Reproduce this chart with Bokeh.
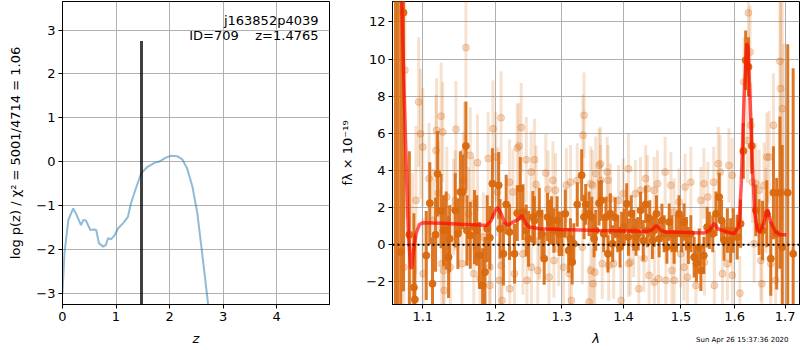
from bokeh.plotting import figure
from bokeh.layouts import row
from bokeh.models import Range1d, FixedTicker, PrintfTickFormatter, Label, Span, Title
from bokeh.embed import file_html
from bokeh.resources import INLINE

# ---------------- left panel data: log p(z) ----------------
z_grid = [0.0, 0.037, 0.11, 0.20, 0.265, 0.345, 0.39, 0.44, 0.52, 0.60, 0.63, 0.68,
          0.76, 0.81, 0.85, 0.91, 0.98, 1.04, 1.13, 1.22, 1.28, 1.38, 1.47, 1.59,
          1.72, 1.81, 1.93, 2.02, 2.15, 2.24, 2.33, 2.43, 2.52, 2.61, 2.72, 2.74]
logpz = [-3.0, -2.09, -1.33, -1.07, -1.22, -1.45, -1.33, -1.35, -1.56, -1.55, -1.56, -1.86,
         -1.94, -1.90, -1.75, -1.77, -1.67, -1.52, -1.41, -1.27, -0.95, -0.58, -0.27, -0.12,
         -0.03, 0.0, 0.09, 0.13, 0.12, 0.05, -0.16, -0.58, -1.18, -2.09, -3.24, -3.4]
z_best = 1.4765
z_best_top = 2.75
zx_ticks = [0, 1, 2, 3, 4]
zy_ticks = [-3, -2, -1, 0, 1, 2, 3]

# ---------------- right panel data: spectrum ----------------
dark_wave = [1.0645, 1.0675, 1.0713, 1.0748, 1.0824, 1.0883, 1.0896,
             1.1046, 1.1093, 1.1129, 1.1170, 1.1198, 1.1245, 1.1277, 1.1314, 1.1346, 1.1360,
             1.1438, 1.1474, 1.1508, 1.1544, 1.1585, 1.1599, 1.1646, 1.1705, 1.1737, 1.1774,
             1.1820, 1.1853, 1.1885, 1.1922, 1.1959,
             1.2050, 1.2070, 1.2119, 1.2159, 1.2208, 1.2282, 1.2322, 1.2367, 1.2407, 1.2456,
             1.2490, 1.2555, 1.2579, 1.2653, 1.2693, 1.2727, 1.2778, 1.2812, 1.2841, 1.2876,
             1.2926, 1.2960,
             1.3000, 1.3054, 1.3107, 1.3135, 1.3162, 1.3188, 1.3243, 1.3313, 1.3351, 1.3378,
             1.3432, 1.3476, 1.3513, 1.3540, 1.3594, 1.3633, 1.3670, 1.3708, 1.3740, 1.3779,
             1.3817, 1.3860, 1.3903, 1.3942, 1.3968,
             1.4012, 1.4053, 1.4083, 1.4131, 1.4171, 1.4212, 1.4247, 1.4289, 1.4335, 1.4377,
             1.4406, 1.4448, 1.4494, 1.4524, 1.4564, 1.4612, 1.4660, 1.4700, 1.4748, 1.4789,
             1.4836, 1.4877, 1.4917, 1.4965,
             1.5013, 1.5055, 1.5098, 1.5134, 1.5179, 1.5239, 1.5282, 1.5332, 1.5363, 1.5418,
             1.5479, 1.5521, 1.5584, 1.5645, 1.5705, 1.5749, 1.5797, 1.5860, 1.5921, 1.5971,
             1.6048, 1.6113, 1.6167, 1.6212, 1.6266, 1.6331, 1.6411, 1.6476, 1.6544, 1.6629,
             1.6708, 1.6762, 1.6827, 1.6893, 1.6940, 1.7052, 1.7164]
dark_flux = [14.5, -4.0, -0.4, 12.5, 0.54, -2.3, -2.95,
             -0.58, 2.24, -2.1, 0.54, 3.82, 1.81, 0.77, 0.77, -0.67, 0.32,
             1.85, 0.59, 2.84, 2.84, 5.32, 0.77, 0.5, 0.95, 0.77, -0.58,
             -2.19, -1.48, 0.86, 0.38, 3.29,
             3.2, 0.86, -0.49, 2.17, 0.68, -0.49, 1.7, 3.02, 1.76, 0.77,
             0.32, 1.49, 1.31, 1.67, 0.59, -0.75, 1.49, 1.22, 1.31, 0.77,
             1.31, 0.59,
             0.59, 1.67, -0.31, 0.32, -0.94, 0.05, 2.17, 3.74, 1.49, 2.17,
             1.67, 1.49, 0.32, 0.77, 2.24, 2.39, 0.59, 1.49, -0.49, 1.67,
             0.05, 1.46, 0.59, -0.13, 0.77,
             0.95, 2.21, 0.41, 1.67, 0.77, 0.41, 0.59, 1.85, 0.23, 2.17,
             0.77, 1.4, 0.23, 0.77, 1.67, 0.32, 1.31, 0.59, -0.13, 1.22,
             0.59, -0.13, 0.59, 1.67,
             0.59, 1.22, 0.59, -0.04, 0.59, -0.67, -1.02, -0.13, -1.39, -0.58,
             0.95, 0.77, 0.59, 1.67, 2.57, 1.31, 0.23, 0.77, 0.23, 0.77,
             0.41, 1.13, 5.05, 9.94, 9.58, 5.32, 1.85, 0.95, 0.77, 1.67,
             -0.75, 2.8, 0.59, 2.8, -0.13, 2.8, -0.49]
dark_err = [20, 20, 15, 15, 4.5, 4.0, 3.5,
            2.4, 2.2, 2.5, 2.0, 2.3, 2.0, 1.9, 2.1, 2.2, 1.8,
            2.0, 1.9, 2.2, 2.0, 2.4, 1.9, 1.8, 2.0, 1.9, 1.8,
            2.0, 1.9, 1.8, 1.7, 1.9,
            1.8, 1.6, 1.7, 1.6, 1.5, 1.6, 1.5, 1.7, 1.5, 1.4,
            1.5, 1.4, 1.3, 1.4, 1.3, 1.4, 1.3, 1.2, 1.3, 1.2,
            1.3, 1.2,
            1.2, 1.3, 1.2, 1.1, 1.2, 1.1, 1.2, 1.4, 1.2, 1.1,
            1.2, 1.1, 1.0, 1.1, 1.2, 1.1, 1.0, 1.1, 1.0, 1.1,
            1.0, 1.1, 1.0, 1.1, 1.0,
            1.0, 1.1, 1.0, 1.0, 1.1, 1.0, 0.9, 1.0, 1.1, 1.0,
            0.9, 1.0, 1.0, 0.9, 1.0, 1.0, 0.9, 1.0, 0.9, 1.0,
            1.0, 0.9, 1.0, 1.0,
            1.0, 1.0, 0.9, 1.0, 1.0, 1.1, 1.0, 1.0, 1.1, 1.0,
            1.1, 1.0, 1.0, 1.2, 1.3, 1.1, 1.1, 1.2, 1.2, 1.2,
            1.2, 1.3, 1.5, 1.6, 1.6, 1.5, 1.4, 1.5, 1.6, 1.8,
            2.0, 2.5, 3.0, 4.1, 5.5, 8.0, 10.0]

light_wave = [1.0753, 1.0766, 1.0865, 1.0910, 1.0946, 1.0969, 1.1000, 1.1005, 1.1083, 1.1138,
              1.1176, 1.1184, 1.1207, 1.1245, 1.1253, 1.1267, 1.1277, 1.1286, 1.1322, 1.1369,
              1.1415, 1.1438, 1.1447, 1.1530, 1.1553, 1.1563, 1.1585, 1.1622, 1.1646, 1.1692,
              1.1695, 1.1747, 1.1784, 1.1830, 1.1899, 1.1922, 1.1925, 1.1968, 1.2010, 1.2036,
              1.2059, 1.2085, 1.2088, 1.2099, 1.2208, 1.2211, 1.2258, 1.2282, 1.2322, 1.2347,
              1.2381, 1.2407, 1.2456, 1.2466, 1.2530, 1.2533, 1.2579, 1.2604, 1.2629, 1.2653,
              1.2752, 1.2787, 1.2801, 1.2861, 1.2876, 1.2901, 1.2950, 1.3026, 1.3070, 1.3118,
              1.3135, 1.3151, 1.3243, 1.3325, 1.3334, 1.3351, 1.3432, 1.3459, 1.3462, 1.3487,
              1.3497, 1.3524, 1.3540, 1.3594, 1.3617, 1.3620, 1.3646, 1.3727, 1.3743, 1.3754,
              1.3782, 1.3835, 1.3917, 1.3958, 1.3995, 1.4083, 1.4086, 1.4113, 1.4171, 1.4201,
              1.4259, 1.4289, 1.4348, 1.4377, 1.4406, 1.4436, 1.4524, 1.4527, 1.4582, 1.4600,
              1.4718, 1.4730, 1.4819, 1.4836, 1.4877, 1.4880, 1.4965, 1.4995, 1.5055, 1.5074,
              1.5116, 1.5179, 1.5271, 1.5363, 1.5418, 1.5429, 1.5491, 1.5602, 1.5613, 1.5686,
              1.5723, 1.5767, 1.5860, 1.5889, 1.5952, 1.5955, 1.6099, 1.6179, 1.6246, 1.6266,
              1.6298, 1.6312, 1.6345, 1.6377, 1.6411, 1.6476, 1.6510, 1.6530, 1.6576, 1.6610,
              1.6629, 1.6675, 1.6708, 1.6762, 1.6807, 1.6893, 1.6907, 1.6940, 1.6972]
light_flux = [-1.21, 9.4, -0.13, 2.39, 7.69, 5.98, 5.26, -1.56, 3.56, 1.31,
              5.08, 6.16, 2.78, 6.92, -1.02, 6.07, -1.39, -2.46, 2.57, -1.21,
              2.03, 2.39, 6.22, -1.02, 3.47, 4.99, 10.62, 1.67, 4.81, 2.21,
              -1.56, 4.42, -1.83, 0.41, 4.64, -1.21, -2.19, 6.25, 4.72, 2.84,
              -1.92, 6.84, -1.12, -3.0, 3.37, -2.37, 2.84, -1.56, 5.21, 5.32,
              6.31, -0.49, 4.58, -1.92, 3.91, -1.21, 4.58, 3.25, -1.39, 0.23,
              3.86, 2.98, -1.75, 3.47, -0.85, 2.93, -0.22, -1.21, 3.2, -1.56,
              3.37, -3.0, 3.47, -0.13, 5.89, 6.97, -3.09, 3.29, -1.39, 3.2,
              -2.1, -1.48, 3.83, 4.27, 4.36, 3.47, -1.02, 3.91, 3.47, -1.12,
              2.48, -1.02, 2.39, -3.0, 2.75, 4.09, -1.02, -0.94, 0.05, 2.75,
              -2.37, 2.93, -0.75, 3.56, 3.02, -1.65, 2.93, -2.01, 3.29, -1.83,
              3.91, -1.92, 3.2, -1.39, 1.76, -1.92, 2.3, -0.49, -1.21, 3.11,
              -1.75, 3.37, -2.19, 2.39, 3.29, -0.94, 2.57, 3.37, -2.19, 4.36,
              3.91, -1.56, -1.02, 4.27, 3.74, -1.65, -2.61, 8.77, 5.62, 12.49,
              10.38, 6.43, 3.37, 0.05, 3.29, 2.93, -0.85, -2.1, 3.2, 1.85,
              4.72, 4.72, -1.02, 6.43, -1.92, 9.88, 8.41, 7.33, 2.84]
light_err = [6.0, 8.0, 4.0, 4.0, 3.5, 3.5, 3.2, 3.0, 3.0, 2.8,
             3.0, 2.8, 2.8, 2.9, 2.8, 2.7, 2.8, 2.7, 2.7, 2.6,
             2.6, 2.7, 2.6, 2.6, 2.6, 2.7, 2.7, 2.5, 2.6, 2.5,
             2.5, 2.6, 2.5, 2.4, 2.5, 2.4, 2.4, 2.6, 2.4, 2.4,
             2.3, 2.5, 2.3, 2.4, 2.3, 2.3, 2.3, 2.2, 2.4, 2.3,
             2.4, 2.2, 2.3, 2.2, 2.2, 2.2, 2.2, 2.1, 2.1, 2.1,
             2.1, 2.1, 2.0, 2.1, 2.0, 2.0, 2.0, 2.0, 2.0, 2.0,
             2.0, 2.0, 2.0, 2.0, 2.2, 2.3, 2.0, 2.0, 1.9, 1.9,
             1.9, 1.9, 2.0, 2.0, 2.0, 1.9, 1.9, 1.9, 1.9, 1.9,
             1.9, 1.9, 1.9, 1.9, 1.9, 1.9, 1.8, 1.8, 1.8, 1.8,
             1.8, 1.8, 1.8, 1.8, 1.8, 1.8, 1.8, 1.8, 1.8, 1.8,
             1.9, 1.8, 1.8, 1.8, 1.8, 1.8, 1.8, 1.8, 1.8, 1.8,
             1.8, 1.9, 1.8, 1.8, 1.9, 1.8, 1.9, 1.9, 1.9, 2.0,
             2.0, 1.9, 2.0, 2.0, 2.0, 2.0, 2.0, 2.4, 2.3, 2.5,
             2.5, 2.3, 2.2, 2.1, 2.2, 2.2, 2.2, 2.2, 2.3, 2.3,
             2.4, 2.5, 2.6, 2.8, 3.0, 5.0, 5.0, 6.0, 8.0]

model_wave = [1.0721, 1.0753, 1.0784, 1.0811, 1.0842, 1.0852, 1.0874, 1.0910, 1.0955, 1.1000,
              1.1249, 1.1526, 1.1774, 1.1876, 1.1941, 1.1968, 1.2010, 1.2036, 1.2085, 1.2134,
              1.2184, 1.2258, 1.2332, 1.2396, 1.2456, 1.2505, 1.2653, 1.2975, 1.3589, 1.4406,
              1.4489, 1.4564, 1.4642, 1.4730, 1.5424, 1.5521, 1.5613, 1.5675, 1.5860, 1.5982,
              1.6079, 1.6127, 1.6179, 1.6232, 1.6258, 1.6298, 1.6345, 1.6391, 1.6445, 1.6496,
              1.6564, 1.6643, 1.6708, 1.6807, 1.6907, 1.7025]
model_flux = [14.0, 8.68, 4.18, 0.59, -1.21, -1.3, -0.49, 0.59, 1.09, 1.18,
              1.15, 1.10, 1.06, 1.04, 1.3, 1.55, 1.9, 2.0, 1.67, 1.22,
              1.04, 1.22, 1.35, 1.58, 1.09, 0.95, 0.86, 0.82, 0.77, 0.72,
              0.80, 1.04, 0.77, 0.68, 0.63, 0.77, 1.15, 0.86, 0.68, 0.59,
              0.95, 3.29, 7.78, 10.84, 10.65, 7.78, 4.18, 1.67, 0.77, 0.68,
              1.13, 1.89, 1.22, 0.68, 0.54, 0.54]
zero_level = 0.0
wave_ticks = [1.1, 1.2, 1.3, 1.4, 1.5, 1.6, 1.7]
flux_ticks = [-2, 0, 2, 4, 6, 8, 10, 12]

FONT = "DejaVu Sans"
DARK = "#d9690f"
GRID = "#b0b0b0"


def style(p, xticks, yticks):
    p.background_fill_color = "white"
    p.border_fill_color = "white"
    p.outline_line_color = "black"
    p.outline_line_width = 1
    p.xaxis.ticker = FixedTicker(ticks=xticks)
    p.yaxis.ticker = FixedTicker(ticks=yticks)
    for ax in (p.xaxis[0], p.yaxis[0]):
        ax.axis_line_color = "black"
        ax.major_tick_line_color = "black"
        ax.major_tick_out = 4
        ax.major_tick_in = 0
        ax.minor_tick_line_color = None
        ax.major_label_text_font = FONT
        ax.major_label_text_font_size = "13px"
        ax.major_label_text_color = "black"
        ax.axis_label_text_font = FONT
        ax.axis_label_text_font_size = "13px"
        ax.axis_label_text_color = "black"
        ax.axis_label_text_font_style = "normal"
        ax.major_label_standoff = 3
    p.grid.grid_line_color = GRID
    p.grid.grid_line_width = 1
    p.grid.grid_line_alpha = 1.0


# ---------------- left figure ----------------
p1 = figure(width=330, height=350, x_range=Range1d(0, 4.99), y_range=Range1d(-3.26, 3.65),
            output_backend="svg", toolbar_location=None,
            min_border_left=62, min_border_right=1, min_border_top=1, min_border_bottom=46)
style(p1, zx_ticks, zy_ticks)
p1.yaxis.major_label_overrides = {t: (str(t).replace("-", "\u2212")) for t in zy_ticks}
p1.xaxis.axis_label = "z"
p1.xaxis.axis_label_text_font_style = "italic"
p1.yaxis.axis_label = "log p(z) / \u03c7\u00b2 = 5001/4714 = 1.06"
p1.yaxis.axis_label_standoff = 10
p1.xaxis.axis_label_standoff = 7

p1.line(z_grid, logpz, line_color="#1f77b4", line_alpha=0.5, line_width=2)
p1.segment(x0=[z_best], y0=[p1.y_range.start], x1=[z_best], y1=[z_best_top],
           line_color="black", line_alpha=0.75, line_width=3)

p1.add_layout(Label(x=256, y=284, x_units="screen", y_units="screen", text="j163852p4039",
                    text_align="right", text_baseline="middle", text_font=FONT,
                    text_font_size="13px", text_color="black"))
p1.add_layout(Label(x=256, y=269, x_units="screen", y_units="screen",
                    text="ID=709\u00a0\u00a0\u00a0\u00a0z=1.4765",
                    text_align="right", text_baseline="middle", text_font=FONT,
                    text_font_size="13px", text_color="black"))

# ---------------- right figure ----------------
p2 = figure(width=470, height=350, x_axis_type="log",
            x_range=Range1d(1.0607, 1.7295), y_range=Range1d(-3.22, 13.1),
            output_backend="svg", toolbar_location=None,
            min_border_left=62, min_border_right=1, min_border_top=1, min_border_bottom=46)
style(p2, wave_ticks, flux_ticks)
p2.xaxis.formatter = PrintfTickFormatter(format="%.1f")
p2.yaxis.major_label_overrides = {t: (str(t).replace("-", "\u2212")) for t in flux_ticks}
p2.xaxis.axis_label = "\u03bb"
p2.xaxis.axis_label_text_font_style = "italic"
p2.xaxis.axis_label_standoff = 7
p2.yaxis.axis_label = "f\u03bb \u00d7 10\u207b\u00b9\u2079"
p2.yaxis.axis_label_standoff = 8

# light (unbinned) spectrum
p2.segment(x0=light_wave, x1=light_wave,
           y0=[f - e for f, e in zip(light_flux, light_err)],
           y1=[f + e for f, e in zip(light_flux, light_err)],
           line_color=DARK, line_alpha=0.2, line_width=3)
p2.scatter(light_wave, light_flux, size=7, fill_color=DARK, fill_alpha=0.25,
           line_color=DARK, line_alpha=0.25)

# dark (binned) spectrum
p2.segment(x0=dark_wave, x1=dark_wave,
           y0=[f - e for f, e in zip(dark_flux, dark_err)],
           y1=[f + e for f, e in zip(dark_flux, dark_err)],
           line_color=DARK, line_alpha=0.9, line_width=3)
p2.scatter(dark_wave, dark_flux, size=7, fill_color=DARK, line_color=DARK, alpha=0.95)

# model
p2.line(model_wave, model_flux, line_color="red", line_alpha=0.65, line_width=3.5)

p2.add_layout(Span(location=zero_level, dimension="width", line_color="black",
                   line_dash="2 3", line_width=2))

p2.add_layout(Title(text="Sun Apr 26 15:37:36 2020", align="right", vertical_align="top",
                    text_font=FONT, text_font_size="7px", text_font_style="normal",
                    text_color="black", standoff=-26, offset=11), "below")

layout = row(p1, p2)
open("out.html", "w").write(file_html(layout, INLINE))
